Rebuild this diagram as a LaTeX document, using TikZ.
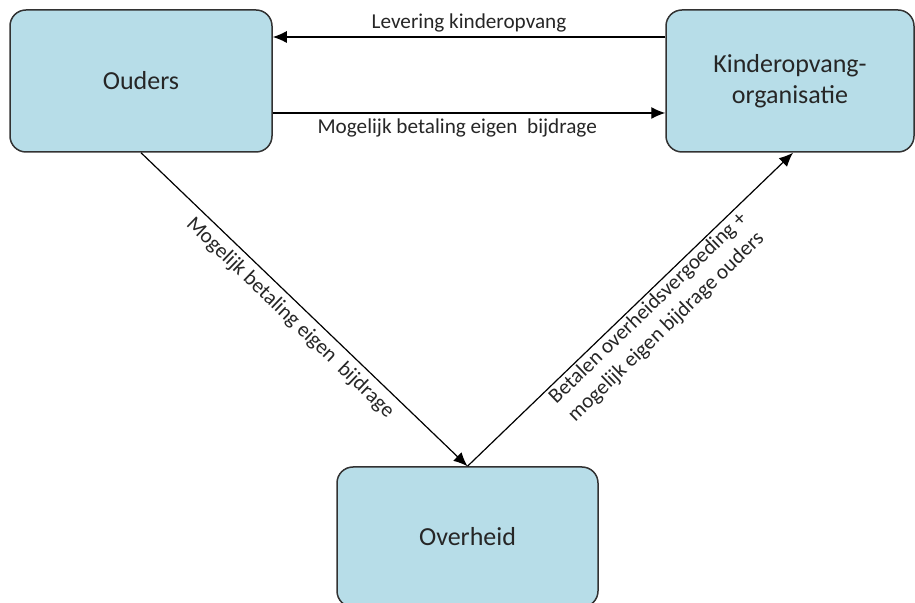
\documentclass[tikz,border=0pt]{standalone}
\usepackage{fontspec}
\setmainfont{Carlito}
\usepackage{xcolor}
\usetikzlibrary{arrows.meta}
\usetikzlibrary{positioning}
\definecolor{boxfill}{RGB}{183,221,232}
\definecolor{boxline}{RGB}{50,50,50}
\definecolor{txt}{RGB}{38,38,38}
\tikzset{>={Latex[length=7pt,width=6pt]}}
\tikzset{
  party/.style={rectangle,draw=boxline,line width=0.75pt,fill=boxfill,rounded corners=8pt,
    align=center,text=txt,font=\fontsize{13}{15.5}\selectfont},
  flow/.style={text=txt,font=\fontsize{10.6}{13}\selectfont}
}

\begin{document}
\begin{tikzpicture}[x=0.5pt,y=-0.5pt]
    \useasboundingbox (0,0) rectangle (915,603);
    \node at (141, 81) [party,minimum width=131pt,minimum height=71pt] (ouders) {Ouders};
    \node at (790, 81) [party,minimum width=124pt,minimum height=71pt] (kinder) {Kinderopvang-\\organisatie};
    \node at (467.5, 537) [party,minimum width=130.5pt,minimum height=70pt] (overheid) {Overheid};
    \draw [->,line width=0.6pt] ([yshift=22pt]kinder.west) to node[above,flow,inner sep=2pt] {Levering kinderopvang} ([yshift=22pt]ouders.east);
    \draw [->,line width=0.6pt] ([yshift=-16pt]ouders.east) to node[below,flow,inner sep=2.5pt,pos=0.47] {Mogelijk betaling eigen~~bijdrage} ([yshift=-16pt]kinder.west);
    \draw [->,line width=0.6pt] (ouders.south) to node[below,sloped,flow,inner sep=3pt,pos=0.49] {Mogelijk betaling eigen~~bijdrage} (overheid.north);
    \draw [->,line width=0.6pt] (overheid.north) to node[below,sloped,flow,align=center,inner sep=1pt,pos=0.53] {Betalen overheidsvergoeding +\\mogelijk eigen bijdrage ouders} ([xshift=1.5pt]kinder.south);
  \end{tikzpicture}
\end{document}
